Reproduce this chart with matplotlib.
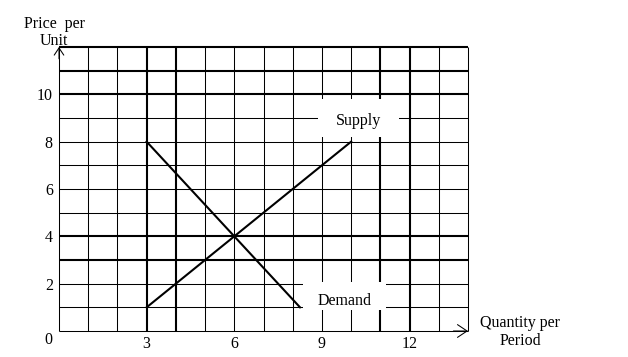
import matplotlib.pyplot as plt
from matplotlib.patches import Rectangle

# --- grid layout (graph paper) ---
Q_MAX, P_MAX = 14, 12
thick_q = [3, 4, 11, 12]
thick_p = [3, 4, 10, 11, 12]

# --- curves ---
supply_q = [3, 10]
supply_p = [1, 8]
demand_q = [3, 8.25]
demand_p = [8, 1]

x_ticks = [3, 6, 9, 12]
y_ticks = [2, 4, 6, 8, 10]

curve_labels = ["Supply", "Demand"]
label_xy = [(10.25, 8.88), (9.78, 1.28)]
# white boxes behind labels: (q0, p0, width, height)
label_boxes = [(8.85, 8.2, 2.8, 1.6), (8.35, 0.9, 2.85, 1.15)]

plt.rcParams['font.family'] = ['Liberation Serif', 'DejaVu Serif']
plt.rcParams['font.size'] = 11.5

fig = plt.figure(figsize=(6.28, 3.57), dpi=100)
ax = fig.add_axes([59 / 628, 26 / 357, 409 / 628, 284 / 357])
ax.set_xlim(0, Q_MAX)
ax.set_ylim(0, P_MAX)
for s in ax.spines.values():
    s.set_visible(False)

THIN, THICK = 0.75, 1.5
for q in range(Q_MAX + 1):
    ax.vlines(q, 0, P_MAX, color='black', lw=THICK if q in thick_q else THIN,
              zorder=2, clip_on=False)
for p in range(P_MAX + 1):
    ax.hlines(p, 0, Q_MAX, color='black', lw=THICK if p in thick_p else THIN,
              zorder=2, clip_on=False)

ax.plot(supply_q, supply_p, color='black', lw=1.5, zorder=3)
ax.plot(demand_q, demand_p, color='black', lw=1.5, zorder=3)

for name, (tx, ty), (bx, by, bw, bh) in zip(curve_labels, label_xy, label_boxes):
    ax.add_patch(Rectangle((bx, by), bw, bh, facecolor='white', edgecolor='none', zorder=4))
    ax.text(tx, ty, name, ha='center', va='center', zorder=5)

# axis arrows
ax.annotate('', xy=(0, P_MAX), xytext=(0, P_MAX - 0.5),
            arrowprops=dict(arrowstyle='->,head_length=0.45,head_width=0.3',
                            lw=0.75, color='black', shrinkA=0, shrinkB=0),
            annotation_clip=False)
ax.annotate('', xy=(Q_MAX, 0), xytext=(Q_MAX - 0.5, 0),
            arrowprops=dict(arrowstyle='->,head_length=0.6,head_width=0.4',
                            lw=0.75, color='black', shrinkA=0, shrinkB=0),
            annotation_clip=False)

ax.set_xticks(x_ticks)
ax.set_yticks(y_ticks)
ax.tick_params(axis='x', length=0, pad=3.5)
ax.tick_params(axis='y', length=0, pad=4.5)
ax.annotate('0', xy=(0, 0), xytext=(-11, -9), textcoords='offset pixels',
            ha='center', va='center', annotation_clip=False)

fig.text(54 / 628, 1 - 32.5 / 357, "Price  per\nUnit", ha='center', va='center',
         linespacing=1.1)
fig.text(520 / 628, 1 - 332 / 357, "Quantity per\nPeriod", ha='center', va='center',
         linespacing=1.1)

fig.savefig('out.png', dpi=100)
